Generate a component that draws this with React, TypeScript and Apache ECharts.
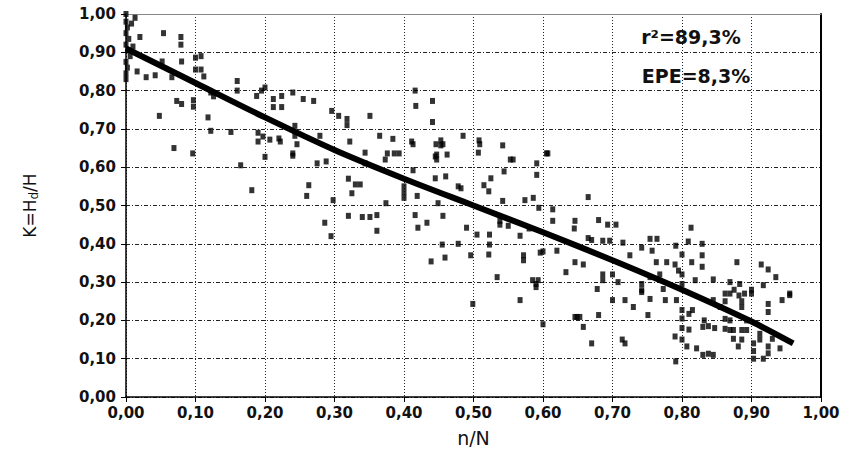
import React, { useEffect, useRef } from "react";
import * as echarts from "echarts";

// Observed relative depth K = Hd/H against relative position n/N
const samplePoints: number[][] = [
  [0.0, 1.0], [0.0, 0.98], [0.002, 0.965], [0.0, 0.95], [0.004, 0.935], [0.0, 0.92], [0.003, 0.905],
  [0.006, 0.89], [0.0, 0.875], [0.002, 0.86], [0.0, 0.845], [0.0, 0.83], [0.008, 0.975], [0.01, 0.915],
  [0.013, 0.99], [0.02, 0.94], [0.054, 0.95], [0.079, 0.94], [0.079, 0.92], [0.016, 0.85], [0.029, 0.835],
  [0.042, 0.84], [0.052, 0.876], [0.066, 0.835], [0.08, 0.876], [0.073, 0.773], [0.08, 0.765], [0.048, 0.734],
  [0.069, 0.65], [0.096, 0.636], [0.1, 0.886], [0.1, 0.855], [0.108, 0.89], [0.108, 0.855], [0.112, 0.837],
  [0.122, 0.795], [0.126, 0.785], [0.118, 0.73], [0.122, 0.695], [0.097, 0.775], [0.097, 0.758], [0.151, 0.692],
  [0.16, 0.825], [0.16, 0.8], [0.188, 0.786], [0.195, 0.8], [0.2, 0.808], [0.212, 0.778], [0.212, 0.757],
  [0.224, 0.786], [0.224, 0.757], [0.24, 0.795], [0.19, 0.69], [0.197, 0.68], [0.207, 0.672], [0.22, 0.675],
  [0.24, 0.63], [0.243, 0.708], [0.165, 0.605], [0.181, 0.54], [0.2, 0.627], [0.19, 0.667], [0.222, 0.667],
  [0.255, 0.778], [0.27, 0.773], [0.296, 0.747], [0.306, 0.734], [0.318, 0.726], [0.318, 0.71], [0.351, 0.734],
  [0.416, 0.8], [0.417, 0.76], [0.441, 0.773], [0.441, 0.718], [0.485, 0.682], [0.508, 0.67], [0.507, 0.638],
  [0.542, 0.657], [0.605, 0.636], [0.365, 0.682], [0.384, 0.674], [0.322, 0.667], [0.279, 0.682], [0.243, 0.682],
  [0.246, 0.66], [0.411, 0.667], [0.453, 0.67], [0.453, 0.657], [0.344, 0.638], [0.376, 0.636], [0.386, 0.636],
  [0.393, 0.636], [0.447, 0.633], [0.462, 0.633], [0.24, 0.636], [0.275, 0.61], [0.288, 0.615], [0.263, 0.553],
  [0.26, 0.525], [0.298, 0.514], [0.286, 0.455], [0.295, 0.42], [0.32, 0.57], [0.33, 0.555], [0.337, 0.555],
  [0.325, 0.532], [0.32, 0.473], [0.34, 0.47], [0.351, 0.47], [0.361, 0.475], [0.374, 0.506], [0.361, 0.434],
  [0.344, 0.61], [0.373, 0.62], [0.413, 0.592], [0.4, 0.55], [0.4, 0.535], [0.4, 0.52], [0.419, 0.525],
  [0.416, 0.475], [0.433, 0.455], [0.42, 0.442], [0.445, 0.628], [0.447, 0.62], [0.445, 0.571], [0.46, 0.576],
  [0.446, 0.66], [0.456, 0.66], [0.413, 0.66], [0.456, 0.473], [0.449, 0.506], [0.455, 0.398], [0.439, 0.354],
  [0.459, 0.364], [0.478, 0.55], [0.482, 0.545], [0.478, 0.4], [0.49, 0.442], [0.496, 0.37], [0.505, 0.424],
  [0.509, 0.66], [0.515, 0.553], [0.525, 0.571], [0.522, 0.537], [0.523, 0.424], [0.523, 0.398], [0.522, 0.372],
  [0.534, 0.313], [0.553, 0.62], [0.557, 0.62], [0.544, 0.589], [0.542, 0.512], [0.538, 0.46], [0.538, 0.45],
  [0.55, 0.447], [0.574, 0.514], [0.586, 0.52], [0.567, 0.421], [0.572, 0.37], [0.572, 0.357], [0.58, 0.44],
  [0.591, 0.61], [0.591, 0.58], [0.607, 0.636], [0.594, 0.494], [0.614, 0.49], [0.614, 0.46], [0.596, 0.377],
  [0.6, 0.38], [0.62, 0.382], [0.633, 0.326], [0.646, 0.352], [0.646, 0.46], [0.645, 0.44], [0.585, 0.305],
  [0.593, 0.305], [0.59, 0.295], [0.499, 0.243], [0.567, 0.253], [0.6, 0.19], [0.649, 0.209], [0.59, 0.287],
  [0.665, 0.522], [0.68, 0.462], [0.693, 0.45], [0.705, 0.45], [0.665, 0.415], [0.67, 0.41], [0.686, 0.408],
  [0.696, 0.408], [0.715, 0.403], [0.754, 0.413], [0.764, 0.413], [0.742, 0.39], [0.757, 0.382], [0.725, 0.37],
  [0.763, 0.352], [0.778, 0.352], [0.791, 0.395], [0.8, 0.372], [0.813, 0.442], [0.809, 0.406], [0.829, 0.4],
  [0.829, 0.37], [0.829, 0.34], [0.814, 0.352], [0.79, 0.346], [0.795, 0.33], [0.8, 0.32], [0.658, 0.346],
  [0.686, 0.32], [0.686, 0.305], [0.7, 0.32], [0.708, 0.3], [0.678, 0.282], [0.742, 0.295], [0.742, 0.274],
  [0.754, 0.313], [0.768, 0.32], [0.773, 0.282], [0.8, 0.295], [0.819, 0.305], [0.845, 0.307], [0.869, 0.3],
  [0.869, 0.27], [0.883, 0.295], [0.879, 0.352], [0.914, 0.346], [0.924, 0.333], [0.935, 0.313], [0.917, 0.292],
  [0.955, 0.27], [0.9, 0.27], [0.89, 0.27], [0.7, 0.253], [0.718, 0.253], [0.73, 0.235], [0.742, 0.279],
  [0.754, 0.256], [0.776, 0.253], [0.792, 0.253], [0.646, 0.209], [0.653, 0.209], [0.68, 0.214], [0.658, 0.183],
  [0.67, 0.14], [0.714, 0.15], [0.718, 0.14], [0.751, 0.214], [0.79, 0.158], [0.791, 0.093], [0.807, 0.132],
  [0.821, 0.127], [0.83, 0.11], [0.838, 0.113], [0.845, 0.11], [0.8, 0.227], [0.8, 0.205], [0.8, 0.18],
  [0.8, 0.15], [0.81, 0.217], [0.81, 0.176], [0.815, 0.227], [0.83, 0.183], [0.838, 0.185], [0.847, 0.18],
  [0.832, 0.2], [0.855, 0.235], [0.862, 0.204], [0.862, 0.178], [0.869, 0.2], [0.869, 0.175], [0.874, 0.175],
  [0.874, 0.152], [0.886, 0.235], [0.886, 0.175], [0.886, 0.15], [0.881, 0.132], [0.893, 0.2], [0.893, 0.175],
  [0.903, 0.14], [0.903, 0.12], [0.903, 0.1], [0.912, 0.165], [0.912, 0.15], [0.917, 0.1], [0.924, 0.132],
  [0.924, 0.114], [0.93, 0.152], [0.941, 0.127], [0.924, 0.243], [0.924, 0.222], [0.944, 0.253], [0.955, 0.266],
  [0.9, 0.28], [0.875, 0.28], [0.882, 0.265], [0.886, 0.25], [0.862, 0.27], [0.862, 0.25], [0.845, 0.253],
];

// Fitted regression curve
const fitCurve: number[][] = [
  [0.0, 0.91], [0.1, 0.82], [0.2, 0.73], [0.3, 0.645], [0.4, 0.57], [0.5, 0.5],
  [0.6, 0.43], [0.7, 0.357], [0.8, 0.28], [0.9, 0.197], [0.96, 0.14],
];

// Fit statistics shown in the upper right
const fitStats = ["r²=89,3%", "EPE=8,3%"];

const decimalComma = (v: number) => v.toFixed(2).replace(".", ",");

const tickFont = {
  fontFamily: "DejaVu Sans",
  fontWeight: "bold" as const,
  fontSize: 15,
  color: "#111",
};

export default function App() {
  const ref = useRef<HTMLDivElement>(null);

  useEffect(() => {
    if (!ref.current) return;
    const chart = echarts.init(ref.current, null, { renderer: "svg" });
    chart.setOption({
      animation: false,
      backgroundColor: "#fff",
      grid: { left: 126, right: 29, top: 14, bottom: 51 },
      xAxis: [
        {
          type: "value",
          min: 0,
          max: 1,
          interval: 0.1,
          position: "bottom",
          name: "n/N",
          nameLocation: "middle",
          nameGap: 31,
          nameTextStyle: { fontFamily: "DejaVu Sans", fontSize: 19, color: "#111" },
          axisLine: { show: true, onZero: false, lineStyle: { color: "#000", width: 1.5 } },
          axisTick: { show: true, length: 5, lineStyle: { color: "#000", width: 1 } },
          axisLabel: { ...tickFont, margin: 8, formatter: decimalComma },
          splitLine: { show: true, lineStyle: { type: [1, 2], color: "#222", width: 1 } },
        },
        {
          type: "value",
          min: 0,
          max: 1,
          position: "top",
          axisLine: { show: true, onZero: false, lineStyle: { color: "#888", width: 1 } },
          axisTick: { show: false },
          axisLabel: { show: false },
          splitLine: { show: false },
        },
      ],
      yAxis: [
        {
          type: "value",
          min: 0,
          max: 1,
          interval: 0.1,
          position: "left",
          name: "{a|K=H}{s|d}{a|/H}",
          nameLocation: "middle",
          nameGap: 86,
          nameTextStyle: {
            color: "#111",
            rich: {
              a: { fontFamily: "DejaVu Sans", fontSize: 17, color: "#111", lineHeight: 20 },
              s: { fontFamily: "DejaVu Sans", fontSize: 12, color: "#111", lineHeight: 8, verticalAlign: "bottom" },
            },
          },
          axisLine: { show: true, onZero: false, lineStyle: { color: "#000", width: 1.5 } },
          axisTick: { show: true, length: 5, lineStyle: { color: "#000", width: 1 } },
          axisLabel: { ...tickFont, margin: 10, formatter: decimalComma },
          splitLine: { show: true, lineStyle: { type: [4, 2, 1, 2], color: "#222", width: 1 } },
        },
        {
          type: "value",
          min: 0,
          max: 1,
          position: "right",
          axisLine: { show: true, onZero: false, lineStyle: { color: "#000", width: 2 } },
          axisTick: { show: false },
          axisLabel: { show: false },
          splitLine: { show: false },
        },
      ],
      series: [
        {
          type: "line",
          data: fitCurve,
          smooth: 0.3,
          symbol: "none",
          lineStyle: { color: "#000", width: 6 },
          z: 2,
        },
        {
          type: "scatter",
          data: samplePoints,
          symbol: "rect",
          symbolSize: [5, 6],
          itemStyle: { color: "#000" },
          z: 3,
        },
      ],
      graphic: [
        {
          type: "text",
          x: 691,
          y: 37,
          style: {
            text: fitStats[0],
            fontFamily: "DejaVu Sans",
            fontWeight: "bold",
            fontSize: 19,
            fill: "#111",
            align: "center",
            verticalAlign: "middle",
          },
          z: 10,
        },
        {
          type: "text",
          x: 696,
          y: 76,
          style: {
            text: fitStats[1],
            fontFamily: "DejaVu Sans",
            fontWeight: "bold",
            fontSize: 19,
            fill: "#111",
            align: "center",
            verticalAlign: "middle",
          },
          z: 10,
        },
      ],
    });
    return () => chart.dispose();
  }, []);

  return (
    <div
      ref={ref}
      style={{ position: "fixed", left: 0, top: 0, width: 850, height: 452, background: "#fff" }}
    />
  );
}
